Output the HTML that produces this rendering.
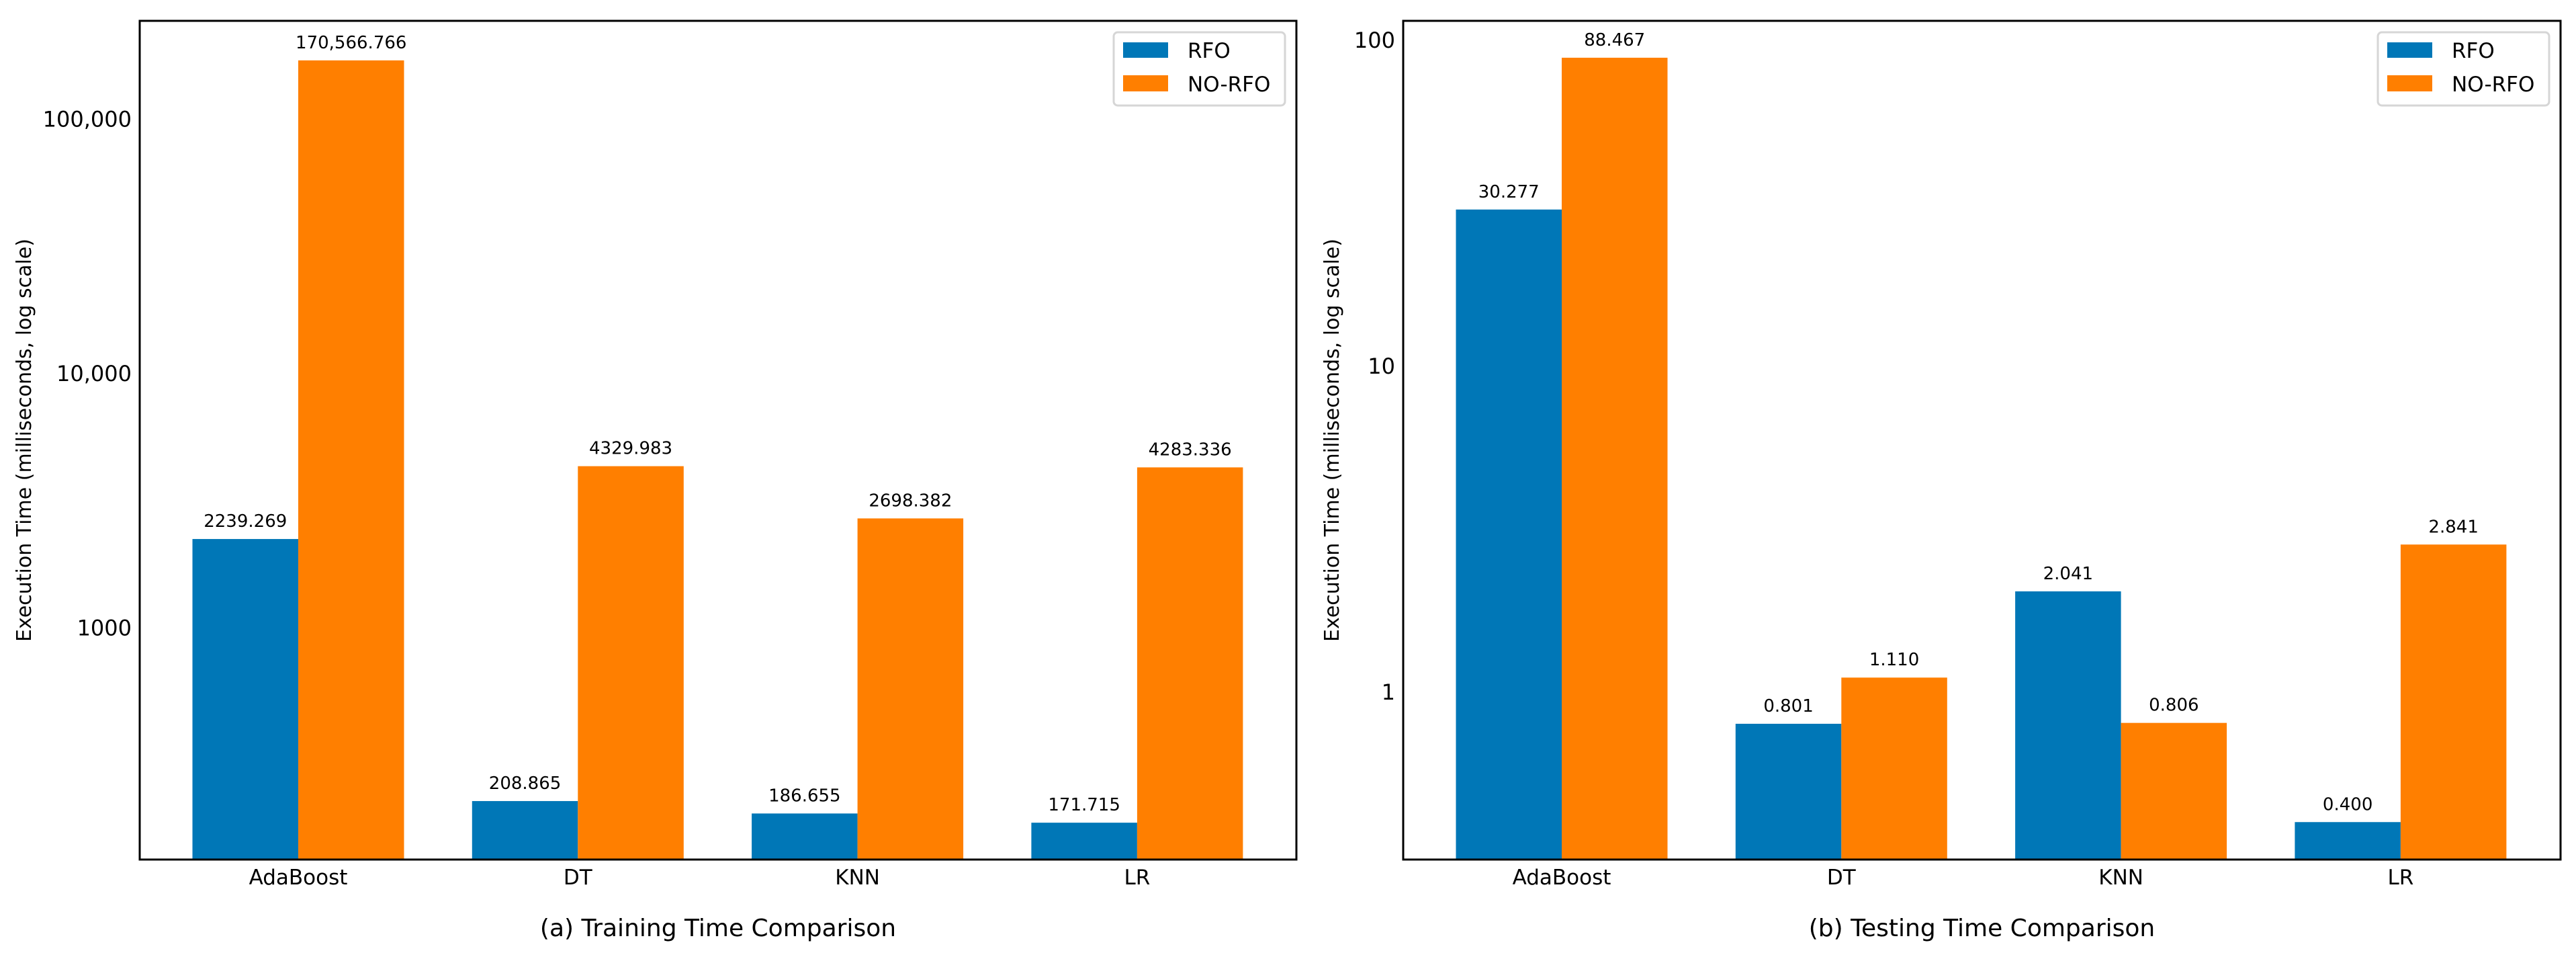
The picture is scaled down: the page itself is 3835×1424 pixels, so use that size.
<!DOCTYPE html>
<html><head><meta charset="utf-8"><style>
html,body{margin:0;padding:0;background:#fff;}
svg{display:block;font-family:"DejaVu Sans","Liberation Sans",sans-serif;}
</style></head><body>
<svg id="chart" width="3835" height="1424" viewBox="0 0 3835 1424" xmlns="http://www.w3.org/2000/svg"></svg>
<script>
const categories = ["AdaBoost","DT","KNN","LR"];
const trainRFO = [2239.269, 208.865, 186.655, 171.715];
const trainNoRFO = [170566.766, 4329.983, 2698.382, 4283.336];
const trainRFOLabels = ["2239.269","208.865","186.655","171.715"];
const trainNoRFOLabels = ["170,566.766","4329.983","2698.382","4283.336"];
const testRFO = [30.277, 0.801, 2.041, 0.400];
const testNoRFO = [88.467, 1.110, 0.806, 2.841];
const testRFOLabels = ["30.277","0.801","2.041","0.400"];
const testNoRFOLabels = ["88.467","1.110","0.806","2.841"];
const trainTicks = [1000, 10000, 100000];
const trainTickLabels = ["1000","10,000","100,000"];
const testTicks = [1, 10, 100];
const testTickLabels = ["1","10","100"];

const NS = "http://www.w3.org/2000/svg";
const svg = document.getElementById("chart");
function mk(tag, attrs, parent){ const e=document.createElementNS(NS,tag); for(const k in attrs) e.setAttribute(k,attrs[k]); (parent||svg).appendChild(e); return e; }
const BLUE="#0077b7", ORANGE="#ff7f00";

function panel(opt){
  const g = mk("g",{});
  
  
  const L=opt.left, R=opt.right, T=31, B=1279;
  const lmin=Math.log10(opt.ymin), lmax=Math.log10(opt.ymax);
  const y = v => B - (Math.log10(v)-lmin)/(lmax-lmin)*(B-T);
  const x0 = L + 236, step = 416.3, bw = 157.5;
  const x = i => x0 + i*step;
  for(let i=0;i<categories.length;i++){
    const b1 = mk("rect",{x:x(i)-bw, y:y(opt.a[i]), width:bw, height:B-y(opt.a[i]), fill:BLUE},g);
    
    
    const b2 = mk("rect",{x:x(i), y:y(opt.b[i]), width:bw, height:B-y(opt.b[i]), fill:ORANGE},g);
    
    
    const t1 = mk("text",{x:x(i)-bw/2, y:y(opt.a[i])-18, "text-anchor":"middle","font-size":26},g);
    t1.textContent=opt.al[i];
    
    
    const t2 = mk("text",{x:x(i)+bw/2, y:y(opt.b[i])-18, "text-anchor":"middle","font-size":26},g);
    t2.textContent=opt.bl[i];
    
    
    const xl = mk("text",{x:x(i), y:1316, "text-anchor":"middle","font-size":31},g);
    xl.textContent=categories[i];
    
    
  }
  for(let k=0;k<opt.ticks.length;k++){
    const yl = mk("text",{x:L-12, y:y(opt.ticks[k])+11, "text-anchor":"end","font-size":32},g);
    yl.textContent=opt.tickLabels[k];
    
    
  }
  const frame = mk("rect",{x:L, y:T, width:R-L, height:B-T, fill:"none", stroke:"#000","stroke-width":3},g);
  
  
  const yt = mk("text",{x:0,y:0,"text-anchor":"middle","font-size":30,transform:`translate(${opt.ylx},${(T+B)/2}) rotate(-90)`},g);
  yt.textContent="Execution Time (milliseconds, log scale)";
  
  
  const cap = mk("text",{x:(L+R)/2, y:1393, "text-anchor":"middle","font-size":36},g);
  cap.textContent=opt.caption;
  
  
  const lg = mk("g",{},g);
  
  
  const lx = R - 272;
  mk("rect",{x:lx, y:48, width:255, height:109, rx:6, fill:"#fff", stroke:"#d6d6d6","stroke-width":3},lg);
  mk("rect",{x:lx+14, y:63, width:67, height:23, fill:BLUE},lg);
  mk("rect",{x:lx+14, y:112, width:67, height:24, fill:ORANGE},lg);
  const e1 = mk("text",{x:lx+110, y:86, "font-size":31},lg); e1.textContent="RFO";
  
  
  const e2 = mk("text",{x:lx+110, y:136, "font-size":31},lg); e2.textContent="NO-RFO";
  
  
}
panel({name:"training-time-panel", left:208, right:1930, ymin:123, ymax:244000, a:trainRFO, b:trainNoRFO, al:trainRFOLabels, bl:trainNoRFOLabels, ticks:trainTicks, tickLabels:trainTickLabels, ylx:46, caption:"(a) Training Time Comparison"});
panel({name:"testing-time-panel", left:2089, right:3812, ymin:0.307, ymax:114.8, a:testRFO, b:testNoRFO, al:testRFOLabels, bl:testNoRFOLabels, ticks:testTicks, tickLabels:testTickLabels, ylx:1993, caption:"(b) Testing Time Comparison"});
</script>
</body></html>
